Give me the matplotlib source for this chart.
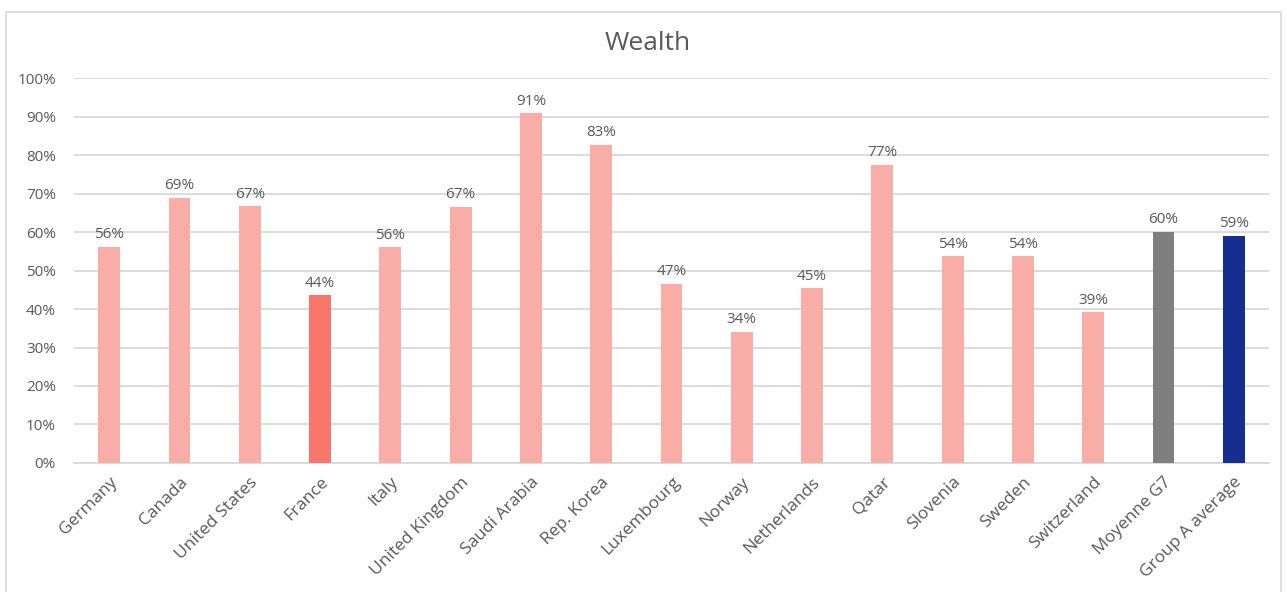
import matplotlib.pyplot as plt
from matplotlib.patches import Rectangle

plt.rcParams['font.family'] = ['Open Sans', 'DejaVu Sans']

# Wealth share by country, plus the two group averages
countries = ["Germany", "Canada", "United States", "France", "Italy",
             "United Kingdom", "Saudi Arabia", "Rep. Korea", "Luxembourg",
             "Norway", "Netherlands", "Qatar", "Slovenia", "Sweden",
             "Switzerland", "Moyenne G7", "Group A average"]
values = [0.562, 0.689, 0.667, 0.436, 0.560, 0.666, 0.909, 0.826, 0.466,
          0.341, 0.454, 0.774, 0.537, 0.537, 0.391, 0.600, 0.590]

pink = "#F9ADA7"
colors = [pink] * len(countries)
colors[countries.index("France")] = "#F8766C"
colors[countries.index("Moyenne G7")] = "#7F7F7F"
colors[countries.index("Group A average")] = "#172E91"

text_color = "#595959"
grid_color = "#D9D9D9"

fig = plt.figure(figsize=(12.87, 5.92), dpi=100)
ax = fig.add_axes([0.0575, 0.218, 0.9285, 0.650])

x = range(len(countries))
ax.bar(x, values, width=0.31, color=colors, zorder=3)

for xi, v in zip(x, values):
    ax.text(xi, v + 0.012, f"{v:.0%}", ha="center", va="bottom",
            fontsize=11, color=text_color)

ax.set_xlim(-0.5, len(countries) - 0.5)
ax.set_ylim(0, 1)
ax.set_yticks([i / 10 for i in range(11)])
ax.set_yticklabels([f"{i * 10}%" for i in range(11)])
ax.yaxis.grid(True, color=grid_color, linewidth=1.3, zorder=0)
ax.set_xticks(list(x))
ax.set_xticklabels(countries, rotation=45, ha="right", rotation_mode="anchor")

ax.tick_params(axis="x", length=0, labelsize=12.5, labelcolor=text_color, pad=8)
ax.tick_params(axis="y", length=0, labelsize=11, labelcolor=text_color, pad=13)
for side in ["top", "right", "left"]:
    ax.spines[side].set_visible(False)
ax.spines["bottom"].set_color(grid_color)
ax.spines["bottom"].set_linewidth(1.3)

fig.text(0.503, 0.927, "Wealth", ha="center", va="center",
         fontsize=19, color=text_color)

# light frame around the chart area
fig.patches.append(Rectangle((0.005, -0.02), 0.990, 1.0, transform=fig.transFigure,
                             fill=False, edgecolor="#D9D9D9", linewidth=1.2))

fig.savefig("out.png", dpi=100)
